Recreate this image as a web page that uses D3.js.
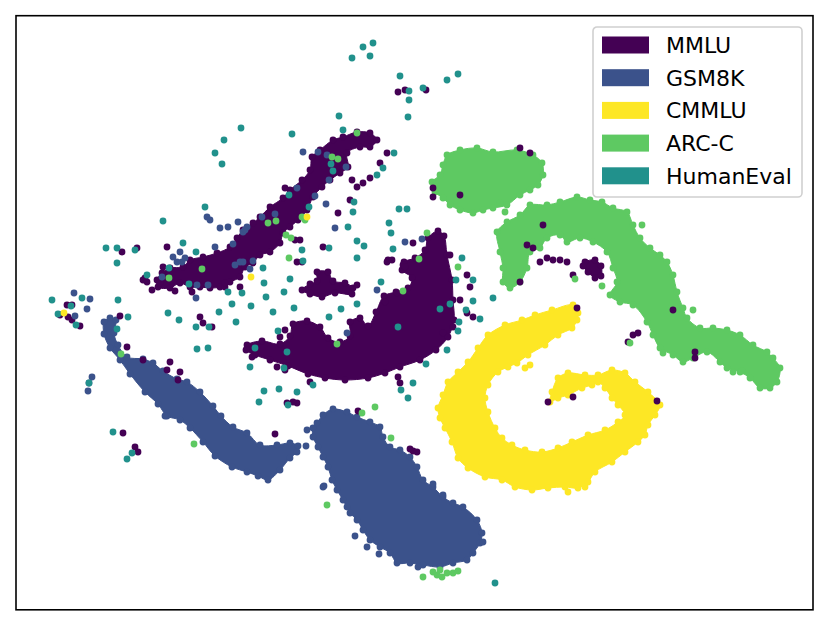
<!DOCTYPE html>
<html>
<head>
<meta charset="utf-8">
<script src="https://cdn.jsdelivr.net/npm/d3@7"></script>
<style>
body{margin:0;background:#fff}
text{font-family:"DejaVu Sans",sans-serif}
</style>
</head>
<body>
<div id="app"></div>
<script>
// t-SNE embedding of benchmark prompts (arbitrary units)
var categories = ["MMLU","GSM8K","CMMLU","ARC-C","HumanEval"]
var colours = ["#440154","#3b528b","#fde725","#5ec962","#21918c"]

// dense areas are kept as outlines, loose points as points
var mmluBlobs = [
  [[-5.3,17.8],[-6.7,17.3],[-7.7,17.0],[-9.0,16.0],[-9.8,15.3],[-10.0,14.0],[-10.8,13.0],[-12.0,12.0],[-12.7,11.2],[-14.0,10.3],[-15.0,9.3],[-15.7,8.7],[-16.7,8.0],[-17.3,7.2],[-18.0,6.3],[-19.3,5.7],[-20.7,5.3],[-22.0,5.0],[-22.7,4.3],[-24.0,4.2],[-24.8,3.7],[-25.3,3.0],[-25.2,2.3],[-24.0,2.2],[-23.0,2.7],[-22.0,2.3],[-21.0,2.3],[-20.0,2.2],[-19.0,2.3],[-18.0,2.8],[-17.0,3.3],[-16.5,4.3],[-15.7,4.7],[-15.0,5.5],[-14.0,5.8],[-13.0,6.7],[-12.7,7.7],[-12.0,8.3],[-11.2,9.0],[-10.3,10.0],[-9.7,11.3],[-8.8,12.3],[-8.0,13.0],[-7.0,13.7],[-6.2,14.3],[-6.3,15.7],[-5.0,16.3],[-4.0,16.3],[-3.3,17.0],[-4.0,17.7]],
  [[-16.3,-3.5],[-14.8,-3.1],[-13.0,-3.4],[-12.0,-2.6],[-11.7,-1.4],[-10.3,-1.1],[-9.0,-1.7],[-8.2,-2.8],[-7.0,-3.2],[-6.0,-2.6],[-6.0,-1.2],[-5.0,-0.8],[-4.2,-1.6],[-3.4,-0.2],[-2.6,1.4],[-1.4,1.8],[-0.2,2.2],[0.2,3.2],[-0.8,4.0],[-0.6,4.8],[0.5,5.2],[1.5,6.0],[1.8,7.2],[2.8,7.9],[3.4,7.4],[3.7,5.5],[4.2,3.0],[4.3,1.0],[4.4,-1.0],[3.8,-2.7],[2.6,-4.0],[1.0,-5.0],[-1.0,-5.7],[-2.5,-6.3],[-4.2,-6.8],[-6.5,-7.0],[-8.5,-6.8],[-10.2,-6.4],[-12.2,-5.6],[-14.0,-5.0],[-15.5,-4.5],[-16.4,-4.0]],
  [[-9.3,3.8],[-8.2,3.8],[-7.7,2.9],[-6.5,2.7],[-5.7,2.2],[-5.8,1.6],[-7.5,1.7],[-8.8,1.3],[-10.0,1.6],[-10.8,2.0],[-10.0,2.6],[-9.3,2.9]],
  [[17.5,4.8],[18.5,5.0],[19.1,4.4],[19.1,3.4],[18.5,3.2],[17.8,3.8],[17.3,4.4]]
]
var mmluPoints = [[-2.3,15.7],[-3.0,14.7],[-4.0,13.2],[-4.7,12.7],[-5.3,12.3],[-5.8,13.0],[-6.0,11.0],[-7.2,9.7],[-12.5,12.2],[-11.0,7.0],[-11.5,7.0],[-10.8,4.8],[-11.3,4.8],[-8.7,6.3],[-5.3,2.5],[-24.3,6.3],[-24.7,4.3],[-26.5,3.2],[-25.0,2.7],[-18.5,2.3],[-2.2,5.0],[-28.8,5.8],[-27.3,6.2],[-26.7,3.0],[-34.3,0.5],[-35.0,-0.5],[-33.0,-1.6],[-33.8,0.5],[-34.2,-0.7],[-33.8,-1.0],[-29.0,-0.6],[-28.3,-3.7],[-26.7,-5.0],[-24.0,-5.2],[-24.3,-6.0],[-23.0,-6.2],[-23.2,-7.0],[-28.7,-12.3],[-27.5,-13.7],[-27.2,-14.2],[-21.0,-0.7],[-20.7,-1.3],[-19.8,-1.7],[-18.5,2.7],[-17.0,2.3],[-13.5,-12.4],[-11.3,-9.3],[-10.0,1.7],[-12.3,-9.3],[-11.7,-9.2],[-10.0,-7.2],[-5.2,-10.1],[0.0,-13.9],[0.3,-14.1],[0.7,-14.2],[-2.3,4.8],[-1.8,5.0],[0.3,6.7],[-0.7,4.5],[5.7,3.5],[6.0,2.3],[5.0,1.0],[5.7,-0.3],[6.3,-0.7],[4.3,-1.7],[3.3,-2.3],[4.0,5.5],[-1.2,-6.7],[-1.0,-7.3],[-12.5,-2.0],[-13.0,-2.7],[-15.8,-4.7],[-13.3,-5.7],[-12.5,-6.0],[-0.5,4.3],[-2.5,0.8],[-1.3,1.7],[11.0,16.2],[12.0,15.7],[5.0,11.5],[2.3,12.2],[2.3,11.3],[13.3,8.5],[11.7,6.5],[12.3,6.2],[13.0,4.8],[13.7,5.2],[14.3,5.0],[15.0,5.0],[15.7,4.8],[16.3,3.5],[22.3,-2.5],[22.8,-2.3],[21.8,-3.2],[26.3,0.0],[28.5,-4.2],[28.5,-4.8],[11.0,2.8],[13.8,-9.2],[16.3,-8.7],[24.7,-9.1],[16.7,0.2],[-1.2,21.8],[-0.5,22.0],[1.6,22.0],[-26.3,2.8],[-25.8,2.0],[-23.5,1.9],[-21.8,1.8]]

var gsmBlobs = [
  [[-30.0,-0.8],[-29.4,-1.0],[-29.6,-2.3],[-29.2,-3.5],[-28.3,-4.7],[-26.7,-4.9],[-25.7,-5.3],[-24.7,-6.1],[-23.3,-6.9],[-22.3,-7.2],[-21.0,-8.2],[-19.7,-9.6],[-18.9,-10.6],[-17.7,-11.7],[-16.3,-12.3],[-15.0,-13.5],[-13.3,-13.5],[-12.0,-13.3],[-11.2,-13.6],[-11.3,-14.2],[-12.0,-14.8],[-13.0,-16.0],[-14.2,-17.0],[-15.2,-16.6],[-16.3,-16.2],[-17.8,-15.7],[-19.5,-14.6],[-20.7,-13.2],[-22.0,-11.8],[-23.0,-11.0],[-24.3,-10.6],[-25.2,-9.4],[-26.5,-8.2],[-28.0,-6.4],[-29.0,-5.0],[-30.0,-3.8],[-30.6,-2.4],[-30.6,-1.2]],
  [[-9.7,-11.8],[-9.3,-11.3],[-8.7,-10.5],[-7.7,-9.9],[-6.3,-10.2],[-5.3,-10.7],[-4.0,-11.2],[-3.0,-11.7],[-2.7,-12.7],[-2.0,-13.7],[-1.0,-14.0],[0.0,-14.7],[0.7,-15.7],[1.3,-17.0],[2.3,-17.7],[3.3,-18.7],[4.3,-19.3],[5.3,-19.7],[6.7,-21.0],[7.2,-22.3],[7.0,-23.3],[6.3,-24.3],[5.7,-25.0],[4.3,-25.3],[3.0,-25.7],[1.3,-25.5],[0.0,-25.3],[-1.3,-25.3],[-2.0,-24.3],[-3.0,-23.7],[-4.0,-23.0],[-4.7,-22.0],[-5.3,-21.0],[-6.0,-20.3],[-6.7,-19.0],[-7.3,-18.0],[-7.8,-17.0],[-8.2,-15.7],[-8.7,-14.7],[-9.2,-13.7],[-9.7,-12.7]]
]
var gsmPoints = [[-33.6,1.7],[-32.0,1.1],[-32.3,0.1],[-33.5,-0.6],[-31.8,-6.7],[-32.1,-7.3],[-32.2,-8.1],[-21.4,1.2],[-21.3,2.5],[-24.5,-10.6],[-10.3,-12.0],[-10.4,-13.6],[-8.6,-17.6],[-5.5,-22.6],[-4.3,-23.7],[-3.1,-24.4],[2.3,-17.4],[3.3,-18.5],[-20.3,9.3],[-20.0,9.0],[-19.0,8.2],[-18.2,8.3],[-17.2,8.8],[-16.3,8.3],[-16.7,7.8],[-10.7,15.8],[-9.2,15.8],[-8.3,15.5],[-6.4,14.3],[-8.1,13.0],[-11.3,12.2],[-9.5,11.4],[-8.4,10.6],[-7.5,8.2],[-13.5,9.6],[-14.8,9.3],[-17.7,6.6],[-19.5,6.3],[-23.0,5.8],[-23.7,5.3],[-22.8,4.8],[-23.3,4.8],[-22.5,5.2],[-24.8,3.3],[-20.2,2.5],[-17.0,4.8],[-16.0,4.1],[-17.5,4.5],[-3.3,2.0],[-0.5,6.8],[1.2,7.1],[-6.3,-2.3],[-16.7,4.8],[-15.7,4.9],[-16.5,8.0],[-8.7,-17.7],[-6.3,-19.7],[7.3,-23.2],[0.8,-25.7]]

var cmmluBlobs = [
  [[16.3,0.5],[14.2,0.0],[12.5,-0.5],[11.2,-1.0],[9.5,-1.5],[7.8,-2.5],[6.8,-3.8],[5.8,-5.2],[4.8,-6.2],[3.8,-7.2],[3.3,-8.5],[2.8,-9.8],[3.0,-10.8],[3.5,-11.8],[4.2,-13.2],[4.8,-14.8],[5.8,-15.8],[7.5,-16.7],[9.2,-17.0],[10.5,-17.7],[12.2,-18.0],[13.8,-17.8],[15.5,-17.7],[16.8,-17.8],[17.8,-17.2],[18.5,-16.2],[20.2,-15.2],[21.5,-14.2],[22.8,-13.2],[23.5,-12.5],[23.8,-11.5],[24.5,-10.5],[25.0,-9.5],[23.8,-8.2],[22.5,-7.2],[21.5,-6.3],[20.2,-6.0],[18.8,-6.5],[17.5,-6.5],[15.8,-6.3],[14.8,-6.8],[14.2,-8.2],[14.0,-9.2],[14.8,-8.8],[15.8,-8.5],[17.2,-7.8],[18.2,-7.5],[18.8,-7.2],[19.5,-7.8],[20.2,-8.8],[20.8,-9.5],[21.5,-10.5],[20.8,-11.2],[19.5,-12.0],[17.8,-12.5],[16.2,-13.2],[14.8,-13.8],[13.2,-14.2],[11.5,-14.0],[10.2,-13.5],[9.2,-12.8],[8.5,-11.8],[7.8,-10.2],[7.5,-8.8],[7.8,-7.5],[8.8,-6.2],[9.8,-5.7],[10.7,-5.3],[11.8,-4.5],[13.5,-3.5],[14.8,-2.5],[16.2,-1.8],[16.7,-1.0],[16.8,-0.3]]
]
var cmmluPoints = [[11.5,-5.8],[12.0,-5.5],[15.8,-18.2],[17.5,-17.7],[-34.6,-0.3],[-15.9,3.3],[-10.3,9.3]]

var arcBlobs = [
  [[3.7,15.5],[5.0,16.0],[6.7,16.2],[8.3,15.8],[10.7,16.0],[12.3,15.5],[13.2,14.7],[13.3,13.5],[12.8,12.5],[12.0,12.0],[11.0,11.5],[9.7,10.5],[8.3,10.2],[7.3,10.0],[6.3,9.7],[5.0,10.0],[4.0,10.5],[3.3,11.2],[2.5,11.8],[2.2,12.8],[3.0,13.5],[3.3,14.5]],
  [[8.7,7.8],[9.7,8.8],[11.0,9.5],[12.0,10.5],[13.7,10.5],[15.0,10.8],[16.7,11.3],[18.0,11.0],[19.2,10.8],[20.3,10.2],[21.7,9.8],[22.3,8.5],[23.0,7.2],[24.0,6.2],[25.0,5.5],[25.7,4.8],[26.3,3.5],[26.7,1.8],[27.3,0.2],[27.7,-0.8],[29.0,-1.8],[30.3,-1.8],[31.7,-2.0],[33.0,-2.5],[34.3,-3.5],[35.7,-4.2],[36.3,-4.8],[37.0,-5.8],[36.7,-7.2],[36.0,-7.8],[35.0,-7.8],[34.0,-6.8],[33.0,-6.2],[31.7,-5.8],[31.0,-5.2],[29.7,-4.2],[28.3,-4.8],[27.3,-5.2],[26.3,-4.5],[25.0,-3.8],[24.3,-2.5],[23.7,-1.2],[22.3,0.5],[21.0,0.8],[20.0,1.5],[20.7,2.8],[20.3,4.2],[19.7,5.8],[18.3,6.8],[17.0,7.2],[15.7,6.8],[15.0,7.5],[13.7,7.2],[13.0,6.2],[12.0,5.8],[11.7,4.2],[11.0,2.8],[10.0,2.2],[9.3,2.8],[9.3,4.2],[9.0,5.8]]
]
var arcPoints = [[19.2,2.4],[16.5,3.1],[28.3,0.0],[23.2,8.5],[32.3,-6.2],[33.2,-6.1],[9.5,9.8],[9.0,10.7],[-3.5,-9.7],[-4.8,-10.3],[-1.9,-12.8],[-8.3,-19.5],[1.3,-26.7],[2.3,-26.2],[3.0,-26.0],[3.7,-26.3],[4.3,-26.3],[4.8,-26.1],[2.7,-26.5],[3.2,-26.7],[-21.6,-13.4],[-28.9,-4.4],[-7.3,-3.4],[-5.3,17.7],[-7.8,15.3],[-7.2,15.1],[-14.2,8.7],[-13.4,8.9],[-10.8,9.3],[-10.5,9.0],[-12.4,7.5],[-11.9,7.2],[-12.1,5.2],[-20.8,4.1],[-24.1,3.2],[1.7,7.7],[0.9,5.1],[4.8,4.3],[-0.7,1.9],[22.0,-3.3],[25.3,-4.3]]

var humanEvalPoints = [[-3.7,26.7],[-4.7,26.3],[-4.0,25.4],[-5.8,25.2],[-1.0,23.4],[-0.1,21.9],[-0.1,21.0],[-0.2,19.3],[4.8,23.6],[3.7,23.0],[1.3,22.2],[-7.1,19.4],[-6.7,18.0],[-11.8,17.6],[-16.9,18.2],[-18.6,17.0],[-19.5,15.7],[-18.8,14.6],[-1.6,15.7],[-2.7,14.2],[-3.3,13.5],[-7.9,14.6],[-7.7,13.9],[-5.6,10.8],[-5.7,9.8],[-1.1,10.1],[-0.3,10.1],[-2.1,8.7],[-1.9,7.7],[-6.2,8.3],[-5.3,6.9],[-4.6,6.4],[-5.3,5.2],[-1.7,6.1],[-10.1,10.3],[-12.1,11.5],[-10.8,6.0],[-10.7,4.9],[-12.0,3.1],[-12.6,1.8],[-11.6,0.2],[-8.1,6.2],[-14.7,4.2],[-14.6,2.7],[-14.4,1.3],[-16.8,1.7],[-18.2,1.8],[-17.8,0.6],[-15.9,0.4],[-13.7,-0.2],[-19.1,-0.2],[-24.2,-0.3],[-22.1,2.6],[-21.4,5.8],[-22.7,6.7],[-20.5,10.3],[-24.7,8.9],[-29.3,6.2],[-30.4,6.2],[-27.5,6.0],[-26.3,3.5],[-24.1,4.2],[-29.3,4.7],[-35.8,1.0],[-32.8,1.2],[-33.9,0.4],[-35.2,-0.4],[-29.2,1.0],[-28.2,-0.7],[-5.3,0.6],[-6.9,0.1],[-8.1,-0.7],[-2.9,2.8],[-33.4,-1.5],[-29.3,-1.9],[-23.1,-1.0],[-21.4,-1.7],[-20.1,-1.7],[-17.4,-1.2],[-13.2,-2.1],[-12.3,-4.2],[-15.5,-3.8],[-16.0,-5.7],[-12.6,-5.8],[-21.3,-3.9],[-20.2,-3.8],[-9.7,-7.5],[-12.2,-9.5],[-14.6,-8.1],[-13.1,-7.9],[-11.3,-8.2],[-15.1,-9.2],[-29.7,-12.2],[-32.1,-7.3],[-27.8,-14.3],[-28.3,-14.9],[-1.2,-1.7],[-0.9,-8.0],[-0.2,-8.8],[0.3,-7.3],[5.2,5.2],[4.6,3.0],[6.3,3.0],[6.3,0.9],[5.6,0.0],[4.9,-1.2],[4.8,-2.1],[3.7,-4.0],[1.6,-5.4],[3.0,0.1],[4.0,0.6],[7.0,-0.9],[8.3,1.2],[8.5,-27.3]]

var W = 829, H = 626
var dotR = 3.4

var svg = d3.select("#app").append("svg").attr("width",W).attr("height",H)

var x = d3.scaleLinear().domain([-39.4,40.3]).range([16,813])
var y = d3.scaleLinear().domain([-29.98,29.43]).range([609.8,15.7])

var blobLine = d3.line().x(d=>x(d[0])).y(d=>y(d[1])).curve(d3.curveCatmullRomClosed.alpha(0.5))

var blobs = [
  {cat:0, shapes:mmluBlobs},
  {cat:1, shapes:gsmBlobs},
  {cat:2, shapes:cmmluBlobs},
  {cat:3, shapes:arcBlobs}
]
var scatters = [
  {cat:0, pts:mmluPoints},
  {cat:1, pts:gsmPoints},
  {cat:4, pts:humanEvalPoints},
  {cat:3, pts:arcPoints},
  {cat:2, pts:cmmluPoints}
]

var plot = svg.append("g")

blobs.forEach(function(b){
  var col = colours[b.cat]
  plot.selectAll(null).data(b.shapes).enter().append("path")
    .attr("d",blobLine)
    .style("fill",col).style("stroke",col)
    .style("stroke-width",1).style("stroke-linejoin","round")
  // the outline points themselves, so the edge looks dotted
  plot.selectAll(null).data(d3.merge(b.shapes)).enter().append("circle")
    .attr("cx",d=>x(d[0])).attr("cy",d=>y(d[1])).attr("r",dotR)
    .style("fill",col)
})

scatters.forEach(function(s){
  plot.selectAll(null).data(s.pts).enter().append("circle")
    .attr("cx",d=>x(d[0])).attr("cy",d=>y(d[1])).attr("r",dotR)
    .style("fill",colours[s.cat])
})

// frame, no ticks
svg.append("rect")
  .attr("x",x.range()[0]).attr("y",y.range()[1])
  .attr("width",x.range()[1]-x.range()[0]).attr("height",y.range()[0]-y.range()[1])
  .style("fill","none").style("stroke","#000").style("stroke-width",1.6)

// legend
var lg = svg.append("g").attr("transform","translate(593,27)")
lg.append("rect").attr("width",209).attr("height",170).attr("rx",4).attr("ry",4)
  .style("fill","rgba(255,255,255,0.8)").style("stroke","#d0d0d0").style("stroke-width",1.6)
var rows = lg.selectAll(".row").data(categories).enter().append("g")
  .attr("transform",(d,i)=>"translate(0,"+(18+i*32.7)+")")
rows.append("rect").attr("x",9).attr("y",-8.5).attr("width",47).attr("height",17)
  .style("fill",(d,i)=>colours[i])
rows.append("text").text(d=>d).attr("x",73).attr("y",8)
  .style("font-size","22px").style("fill","#000")
</script>
</body>
</html>
